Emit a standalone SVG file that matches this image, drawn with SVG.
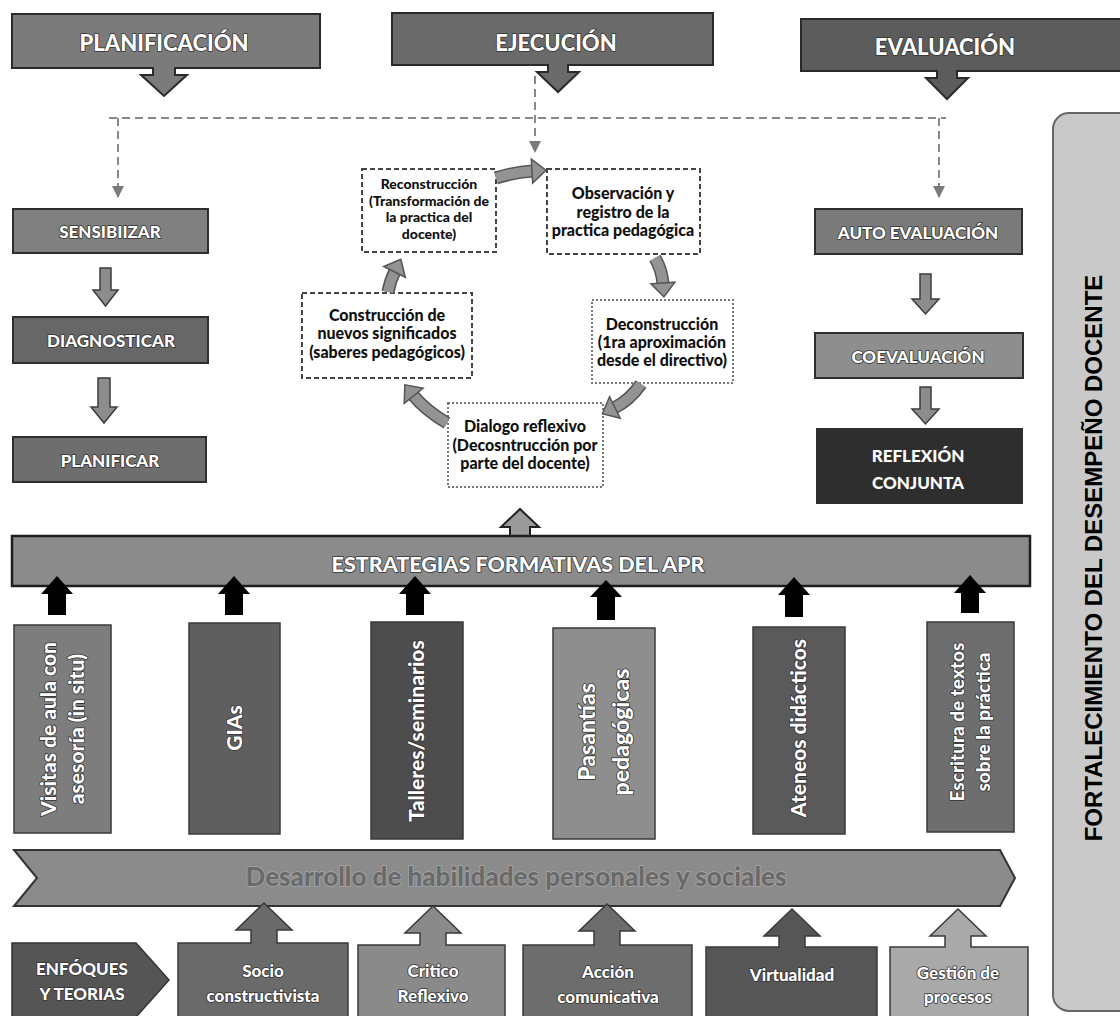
<svg xmlns="http://www.w3.org/2000/svg" width="1120" height="1016" viewBox="0 0 1120 1016">
<defs>
<style>
text { font-family: Lato, "Open Sans", "Liberation Sans", sans-serif; font-weight: 900; text-anchor: middle; }
.w { fill: #fff; paint-order: stroke; stroke: #333; stroke-width: 1.6px; stroke-linejoin: round; }
.k { fill: #111; }
.h1 { font-size: 22px; }
.l18 { font-size: 17px; }
.c13 { font-size: 14px; }
.c14 { font-size: 16px; }
.v22 { font-size: 21px; }
.hb { stroke: #2a2a2a; stroke-width: 2; }
.box { stroke: #2e2e2e; stroke-width: 2; }
.vb { stroke: #3a3a3a; stroke-width: 1.5; }
.dash { fill: #fff; stroke: #444; stroke-width: 2; stroke-dasharray: 5 3; }
.dot { fill: #fff; stroke: #777; stroke-width: 2; stroke-dasharray: 2 2; }
.dl { fill: none; stroke: #888; stroke-width: 2; stroke-dasharray: 8 5; }
.ga { fill: #8c8c8c; stroke: #3c3c3c; stroke-width: 1.5; }
.co { fill: none; stroke: #555; stroke-width: 13; }
.ci { fill: none; stroke: #939393; stroke-width: 10; }
</style>
<marker id="sa" markerUnits="userSpaceOnUse" markerWidth="12" markerHeight="12" viewBox="0 0 12 12" refX="11" refY="6" orient="auto"><path d="M0,0 L12,6 L0,12 z" fill="#7a7a7a"/></marker>
<marker id="ca" markerUnits="userSpaceOnUse" markerWidth="18" markerHeight="28" viewBox="-2 -2 18 28" refX="1" refY="12" orient="auto" overflow="visible"><path d="M0,0 L14,12 L0,24 z" fill="#939393" stroke="#555" stroke-width="1.5"/></marker>
</defs>
<rect width="1120" height="1016" fill="#fff"/>

<!-- right panel -->
<g id="n-fortalecimiento">
<rect x="1053" y="113" width="90" height="898" rx="16" fill="#c9c9c9" stroke="#666" stroke-width="2"/>
<text transform="translate(1102,558) rotate(-90)" style="font-family:'Liberation Sans',Arial,sans-serif;font-weight:700;font-size:24px;fill:#000">FORTALECIMIENTO DEL DESEMPEÑO DOCENTE</text>
</g>

<!-- headers -->
<g id="n-planificacion">
<path class="hb" fill="#7b7b7b" d="M12,14 H320 V68 H175 V75 H187 L164,96 L141,75 H153 V68 H12 Z"/>
<text class="w h1" x="164" y="51">PLANIFICACIÓN</text>
</g>
<g id="n-ejecucion">
<path class="hb" fill="#6a6a6a" d="M392,13 H713 V65 H568 V72 H579 L558,92 L537,72 H548 V65 H392 Z"/>
<text class="w h1" x="556" y="51">EJECUCIÓN</text>
</g>
<g id="n-evaluacion">
<path class="hb" fill="#5c5c5c" d="M801,19 H1130 V71 H957 V78 H968 L947,99 L926,78 H937 V71 H801 Z"/>
<text class="w h1" x="945" y="55">EVALUACIÓN</text>
</g>

<!-- left column -->
<g id="n-sensibilizar"><rect class="box" x="13" y="209" width="195" height="44" fill="#808080"/><text class="w l18" x="110" y="238">SENSIBIIZAR</text></g>
<g id="n-diagnosticar"><rect class="box" x="13" y="317" width="195" height="46" fill="#676767"/><text class="w l18" x="111" y="347">DIAGNOSTICAR</text></g>
<g id="n-planificar"><rect class="box" x="13" y="437" width="193" height="45" fill="#6e6e6e"/><text class="w l18" x="110" y="467">PLANIFICAR</text></g>

<!-- right column -->
<g id="n-autoevaluacion"><rect class="box" x="815" y="209" width="207" height="45" fill="#7a7a7a"/><text class="w l18" x="918" y="239">AUTO EVALUACIÓN</text></g>
<g id="n-coevaluacion"><rect class="box" x="815" y="333" width="208" height="45" fill="#8e8e8e"/><text class="w l18" x="918" y="363">COEVALUACIÓN</text></g>
<g id="n-reflexion"><rect class="box" x="817" y="429" width="205" height="74" fill="#2e2e2e"/><text class="w l18" x="918" y="462">REFLEXIÓN</text><text class="w l18" x="918" y="489">CONJUNTA</text></g>

<!-- cycle -->
<g id="n-reconstruccion"><rect class="dash" x="362" y="169" width="134" height="83"/>
<text class="k c13" x="429" y="189">Reconstrucción</text><text class="k c13" x="429" y="206">(Transformación de</text><text class="k c13" x="429" y="222">la practica del</text><text class="k c13" x="429" y="239">docente)</text></g>
<g id="n-observacion"><rect class="dash" x="547" y="169" width="153" height="85"/>
<text class="k c14" x="623" y="199">Observación y</text><text class="k c14" x="623" y="218">registro de la</text><text class="k c14" x="623" y="236">practica pedagógica</text></g>
<g id="n-deconstruccion"><rect class="dot" x="592" y="300" width="141" height="83"/>
<text class="k c14" x="662" y="330">Deconstrucción</text><text class="k c14" x="662" y="348">(1ra aproximación</text><text class="k c14" x="662" y="366">desde el directivo)</text></g>
<g id="n-dialogo"><rect class="dot" x="448" y="403" width="155" height="84"/>
<text class="k c14" x="525" y="432">Dialogo reflexivo</text><text class="k c14" x="525" y="451">(Decosntrucción por</text><text class="k c14" x="525" y="469">parte del docente)</text></g>
<g id="n-construccion"><rect class="dash" x="302" y="293" width="170" height="85"/>
<text class="k c14" x="387" y="321">Construcción de</text><text class="k c14" x="387" y="339">nuevos significados</text><text class="k c14" x="387" y="358">(saberes pedagógicos)</text></g>

<!-- strategies bar -->
<g id="n-estrategias">
<path d="M510,540 V527 H501 L520,509 L539,527 H530 V540 Z" fill="#9a9a9a" stroke="#222" stroke-width="2"/>
<rect x="12" y="536" width="1018" height="50" fill="#8b8b8b" stroke="#1e1e1e" stroke-width="2.5"/>
<text class="w" x="518" y="572" style="font-size:21.5px">ESTRATEGIAS FORMATIVAS DEL APR</text>
</g>

<!-- vertical strategy boxes -->
<g id="n-visitas"><rect class="vb" x="14" y="625" width="97" height="208" fill="#7d7d7d"/>
<g transform="translate(62.5,729) rotate(-90)"><text class="w v22" x="0" y="-7">Visitas de aula con</text><text class="w v22" x="0" y="21">asesoría (in situ)</text></g></g>
<g id="n-gias"><rect class="vb" x="189" y="623" width="91" height="211" fill="#5f5f5f"/>
<g transform="translate(234.5,728) rotate(-90)"><text class="w v22" x="0" y="7">GIAs</text></g></g>
<g id="n-talleres"><rect class="vb" x="371" y="622" width="92" height="217" fill="#4d4d4d"/>
<g transform="translate(417,731) rotate(-90)"><text class="w v22" x="0" y="7">Talleres/seminarios</text></g></g>
<g id="n-pasantias"><rect class="vb" x="553" y="628" width="102" height="211" fill="#8e8e8e"/>
<g transform="translate(604,732) rotate(-90)"><text class="w" style="font-size:23px" x="0" y="-9">Pasantías</text><text class="w" style="font-size:23px" x="0" y="25">pedagógicas</text></g></g>
<g id="n-ateneos"><rect class="vb" x="753" y="627" width="92" height="207" fill="#5a5a5a"/>
<g transform="translate(799,728) rotate(-90)"><text class="w v22" x="0" y="7">Ateneos didácticos</text></g></g>
<g id="n-escritura"><rect class="vb" x="927" y="622" width="87" height="210" fill="#6e6e6e"/>
<g transform="translate(970.5,722) rotate(-90)"><text class="w" style="font-size:19px" x="0" y="-7">Escritura de textos</text><text class="w" style="font-size:19px" x="0" y="19">sobre la práctica</text></g></g>

<!-- desarrollo chevron -->
<g id="n-desarrollo">
<path d="M14,850 H1000 L1015,878 L1000,906 H14 L37,878 Z" fill="#8b8b8b" stroke="#333" stroke-width="2"/>
<text x="516" y="886" style="font-size:26px;fill:#6a6a6a;paint-order:stroke;stroke:#a8a8a8;stroke-width:1.5px">Desarrollo de habilidades personales y sociales</text>
</g>

<!-- bottom row -->
<g id="n-enfoques"><path d="M12,943 H136 L169,980 L136,1017 H12 Z" fill="#555" stroke="#333" stroke-width="1.5"/>
<text class="w l18" x="82" y="975">ENFÓQUES</text><text class="w l18" x="82" y="1000">Y TEORIAS</text></g>
<g id="n-socio"><path class="vb" fill="#6a6a6a" d="M178,943 H251 V930 H236 L264,903 L292,930 H277 V943 H348 V1020 H178 Z"/>
<text class="w l18" x="263" y="977">Socio</text><text class="w l18" x="263" y="1002">constructivista</text></g>
<g id="n-critico"><path class="vb" fill="#8a8a8a" d="M358,945 H420 V933 H405 L433,906 L461,933 H446 V945 H505 V1020 H358 Z"/>
<text class="w l18" x="433" y="977">Critico</text><text class="w l18" x="433" y="1002">Reflexivo</text></g>
<g id="n-accion"><path class="vb" fill="#6d6d6d" d="M523,945 H594 V931 H579 L607,904 L635,931 H620 V945 H692 V1020 H523 Z"/>
<text class="w l18" x="608" y="978">Acción</text><text class="w l18" x="608" y="1003">comunicativa</text></g>
<g id="n-virtualidad"><path class="vb" fill="#565656" d="M706,947 H779 V936 H764 L792,909 L820,936 H805 V947 H877 V1020 H706 Z"/>
<text class="w l18" x="792" y="981">Virtualidad</text></g>
<g id="n-gestion"><path class="vb" fill="#a9a9a9" d="M890,947 H945 V936 H930 L958,909 L986,936 H971 V947 H1028 V1020 H890 Z"/>
<text class="w l18" x="958" y="979">Gestión de</text><text class="w l18" x="958" y="1003">procesos</text></g>

<!-- connectors -->
<g id="connectors">
<path class="dl" d="M109,118 H946"/>
<path class="dl" d="M118,118 V197" marker-end="url(#sa)"/>
<path class="dl" d="M535,76 V152" marker-end="url(#sa)"/>
<path class="dl" d="M939,118 V197" marker-end="url(#sa)"/>

<path class="ga" d="M100,268 H111 V290 H118 L105.5,306 L93,290 H100 Z"/>
<path class="ga" d="M98,378 H110 V407 H117 L104,423 L91,407 H98 Z"/>
<path class="ga" d="M920,274 H931 V299 H939 L925.5,314 L912,299 H920 Z"/>
<path class="ga" d="M920,387 H931 V409 H939 L925.5,424 L912,409 H920 Z"/>

<path class="co" d="M496,178 Q515,172 533,171"/><path class="ci" d="M496,178 Q515,172 533,171" marker-end="url(#ca)"/>
<path class="co" d="M655,258 Q662,270 663,284"/><path class="ci" d="M655,258 Q662,270 663,284" marker-end="url(#ca)"/>
<path class="co" d="M641,384 Q630,400 614,408"/><path class="ci" d="M641,384 Q630,400 614,408" marker-end="url(#ca)"/>
<path class="co" d="M447,423 Q425,410 413,395"/><path class="ci" d="M447,423 Q425,410 413,395" marker-end="url(#ca)"/>
<path class="co" d="M388,292 Q390,281 395,271"/><path class="ci" d="M388,292 Q390,281 395,271" marker-end="url(#ca)"/>

<path fill="#000" d="M48,615 V594 H41 L57,576 L73,594 H66 V615 Z"/>
<path fill="#000" d="M225,615 V594 H218 L234,576 L250,594 H243 V615 Z"/>
<path fill="#000" d="M406,615 V594 H399 L415,576 L431,594 H424 V615 Z"/>
<path fill="#000" d="M597,620 V597 H590 L606,580 L622,597 H615 V620 Z"/>
<path fill="#000" d="M785,617 V595 H778 L794,577 L810,595 H803 V617 Z"/>
<path fill="#000" d="M961,613 V593 H954 L970,575 L986,593 H979 V613 Z"/>
</g>
</svg>
